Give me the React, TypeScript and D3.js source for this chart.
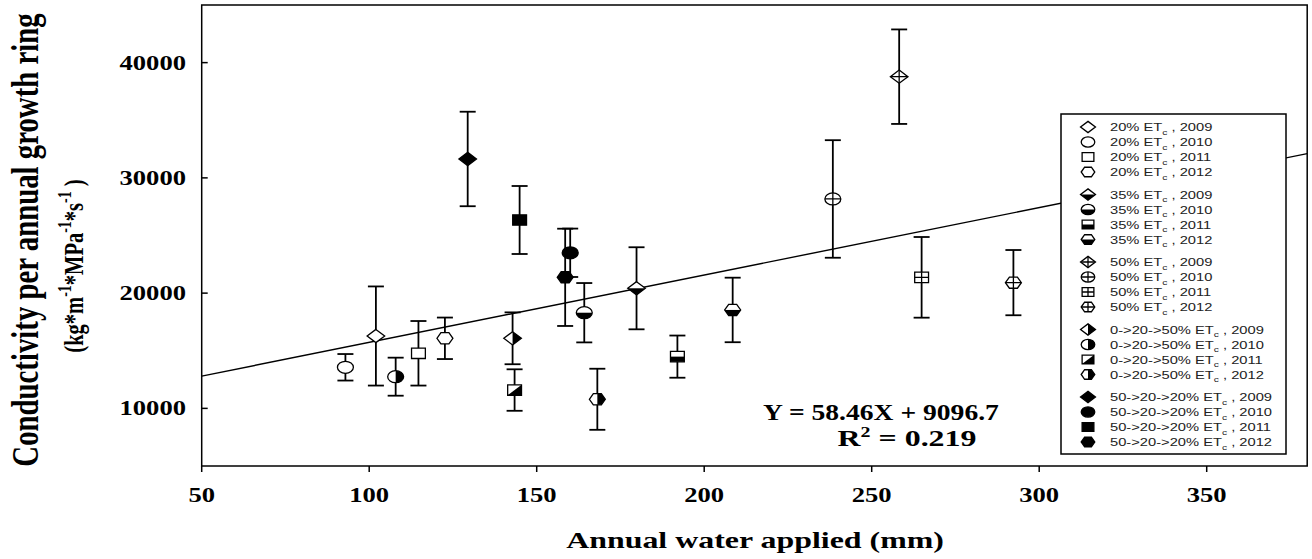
import React from "react";
import * as d3 from "d3";

// ---------- data ----------
const treatments = ["20% ET", "35% ET", "50% ET", "0->20->50% ET", "50->20->20% ET"];
const years = [2009, 2010, 2011, 2012];

// order: treatment-major, year-minor
const waterApplied = [
  102.0, 92.9, 114.7, 122.6,
  179.8, 164.2, 192.0, 208.5,
  258.2, 238.4, 264.9, 292.3,
  142.8, 107.9, 143.4, 168.1,
  129.4, 160.0, 144.9, 158.5,
];
const conductivity = [
  16280, 13565, 14780, 16080,
  20420, 18300, 14490, 18540,
  38780, 28170, 21370, 20910,
  16080, 12750, 11590, 10790,
  31640, 23500, 26345, 21370,
];
const errorBars = [
  4300, 1150, 2800, 1800,
  3560, 2575, 1830, 2800,
  4100, 5100, 3500, 2830,
  2250, 1650, 1800, 2650,
  4100, 2100, 2950, 4220,
];

const xTicks = [50, 100, 150, 200, 250, 300, 350];
const yTicks = [10000, 20000, 30000, 40000];
const fitX = [50, 380];
const fitY = [12800, 32100];
const equationText = "Y = 58.46X + 9096.7";
const r2Value = "0.219";

const treatmentFill = ["open", "bottom", "cross", "right", "full"];
const yearShape = ["diamond", "circle", "square", "hexagon"];

// ---------- geometry ----------
const W = 1312;
const H = 559;
const x = d3.scaleLinear().domain([50, 380]).range([201.7, 1307.2]);
const y = d3.scaleLinear().domain([5000, 45000]).range([466, 5]);
const SX = 1.33; // horizontal stretch of the original picture

function shapePath(shape: string, k: number): string {
  if (shape === "diamond") {
    const r = 6.6 * k;
    return `M0,${-r}L${r},0L0,${r}L${-r},0Z`;
  }
  if (shape === "circle") {
    const r = 6 * k;
    return `M${-r},0A${r},${r} 0 1,0 ${r},0A${r},${r} 0 1,0 ${-r},0Z`;
  }
  if (shape === "square") {
    const s = 5.2 * k;
    return `M${-s},${-s}L${s},${-s}L${s},${s}L${-s},${s}Z`;
  }
  const r = 6 * k;
  const h = 5.6 * k;
  return `M${-r},0L${-r / 2},${-h}L${r / 2},${-h}L${r},0L${r / 2},${h}L${-r / 2},${h}Z`;
}

function Marker({ cx, cy, shape, mode, k, id }: any) {
  const d = shapePath(shape, k);
  const clip = `url(#${id})`;
  const m = mode === "right" && shape === "square" ? "diag" : mode;
  return (
    <g transform={`translate(${cx},${cy}) scale(${SX},1)`}>
      <clipPath id={id}>
        <path d={d} />
      </clipPath>
      <path d={d} fill={m === "full" ? "#000" : "#fff"} />
      {m === "bottom" && <rect x={-20} y={0} width={40} height={20} fill="#000" clipPath={clip} />}
      {m === "right" && <rect x={0} y={-20} width={20} height={40} fill="#000" clipPath={clip} />}
      {m === "diag" && <path d="M20,-20L20,20L-20,20Z" fill="#000" clipPath={clip} />}
      {m === "cross" && (
        <g clipPath={clip} stroke="#000" strokeWidth={1.3}>
          <line x1={-20} x2={20} y1={0} y2={0} vectorEffect="non-scaling-stroke" />
          <line x1={0} x2={0} y1={-20} y2={20} vectorEffect="non-scaling-stroke" />
        </g>
      )}
      <path d={d} fill="none" stroke="#000" strokeWidth={1.3} vectorEffect="non-scaling-stroke" />
    </g>
  );
}

const serif = "'Liberation Serif', 'Times New Roman', serif";
const sans = "'Liberation Sans', Arial, sans-serif";

function StretchText({ tx, ty, anchor, size, children, sx = SX }: any) {
  return (
    <g transform={`translate(${tx},${ty}) scale(${sx},1)`}>
      <text textAnchor={anchor} fontFamily={serif} fontWeight="bold" fontSize={size} fill="#000">
        {children}
      </text>
    </g>
  );
}

export default function App() {
  const points = waterApplied.map((w, i) => ({
    w,
    c: conductivity[i],
    e: errorBars[i],
    t: Math.floor(i / 4),
    yr: i % 4,
  }));

  const legendRows = treatments.flatMap((t, ti) =>
    years.map((yr, yi) => ({ t, ti, yr, yi, cy: 127 + ti * 67.5 + yi * 15 }))
  );

  return (
    <svg width={W} height={H} style={{ position: "absolute", left: 0, top: 0, background: "#fff" }}>
      <rect x={0} y={0} width={W} height={H} fill="#fff" />
      <defs>
        <clipPath id="plotclip">
          <rect x={x(50)} y={y(45000)} width={x(380) - x(50)} height={y(5000) - y(45000)} />
        </clipPath>
      </defs>

      {/* regression line */}
      <line
        x1={x(fitX[0])}
        y1={y(fitY[0])}
        x2={x(fitX[1])}
        y2={y(fitY[1])}
        stroke="#000"
        strokeWidth={1.4}
        clipPath="url(#plotclip)"
      />

      {/* frame */}
      <rect
        x={x(50)}
        y={y(45000)}
        width={x(380) - x(50)}
        height={y(5000) - y(45000)}
        fill="none"
        stroke="#000"
        strokeWidth={1.5}
      />

      {/* y ticks (inward) */}
      {yTicks.map((t) => (
        <g key={t}>
          <line x1={x(50)} x2={x(50) + 6} y1={y(t)} y2={y(t)} stroke="#000" strokeWidth={1.5} />
          <StretchText tx={186} ty={y(t) + 7} anchor="end" size={20}>
            {t}
          </StretchText>
        </g>
      ))}

      {/* x ticks (outward) */}
      {xTicks.map((t) => (
        <g key={t}>
          <line x1={x(t)} x2={x(t)} y1={y(5000)} y2={y(5000) + 6} stroke="#000" strokeWidth={1.5} />
          <StretchText tx={x(t)} ty={502} anchor="middle" size={20}>
            {t}
          </StretchText>
        </g>
      ))}

      {/* axis titles */}
      <StretchText tx={755} ty={548} anchor="middle" size={24}>
        Annual water applied (mm)
      </StretchText>
      <g transform={`translate(38,240) scale(${SX},1) rotate(-90)`}>
        <text textAnchor="middle" fontFamily={serif} fontWeight="bold" fontSize={28.8}>
          Conductivity per annual growth ring
        </text>
      </g>
      <g transform={`translate(83,266) scale(${SX},1) rotate(-90)`}>
        <text textAnchor="middle" fontFamily={serif} fontWeight="bold" fontSize={20.5}>
          (kg*m
          <tspan dy={-9} fontSize={14}>-1</tspan>
          <tspan dy={9}>*MPa</tspan>
          <tspan dy={-9} fontSize={14}>-1</tspan>
          <tspan dy={9}>*s</tspan>
          <tspan dy={-9} fontSize={14}>-1</tspan>
          <tspan dy={9}> )</tspan>
        </text>
      </g>

      {/* error bars */}
      {points.map((p, i) => (
        <g key={`e${i}`} stroke="#000" strokeWidth={1.8}>
          <line x1={x(p.w)} x2={x(p.w)} y1={y(p.c - p.e)} y2={y(p.c + p.e)} />
          <line x1={x(p.w) - 8} x2={x(p.w) + 8} y1={y(p.c - p.e)} y2={y(p.c - p.e)} />
          <line x1={x(p.w) - 8} x2={x(p.w) + 8} y1={y(p.c + p.e)} y2={y(p.c + p.e)} />
        </g>
      ))}

      {/* markers */}
      {points.map((p, i) => (
        <Marker
          key={`m${i}`}
          id={`mk${i}`}
          cx={x(p.w)}
          cy={y(p.c)}
          shape={yearShape[p.yr]}
          mode={treatmentFill[p.t]}
          k={1}
        />
      ))}

      {/* equation */}
      <StretchText tx={881} ty={420} anchor="middle" size={23} sx={1.2}>
        {equationText}
      </StretchText>
      <StretchText tx={907} ty={446} anchor="middle" size={24}>
        R<tspan dy={-9} fontSize={15}>2</tspan>
        <tspan dy={9}> = {r2Value}</tspan>
      </StretchText>

      {/* legend */}
      <rect x={1061} y={114} width={225} height={340} fill="#fff" stroke="#000" strokeWidth={1.5} />
      {legendRows.map((r, i) => (
        <g key={`l${i}`}>
          <Marker
            id={`lg${i}`}
            cx={1088}
            cy={r.cy}
            shape={yearShape[r.yi]}
            mode={treatmentFill[r.ti]}
            k={0.85}
          />
          <g transform={`translate(1110,${r.cy + 4}) scale(1.28,1)`}>
            <text fontFamily={sans} fontSize={11.5} fill="#222">
              {r.t}
              <tspan dy={3.5} fontSize={8}>c</tspan>
              <tspan dy={-3.5}> , {r.yr}</tspan>
            </text>
          </g>
        </g>
      ))}
    </svg>
  );
}
